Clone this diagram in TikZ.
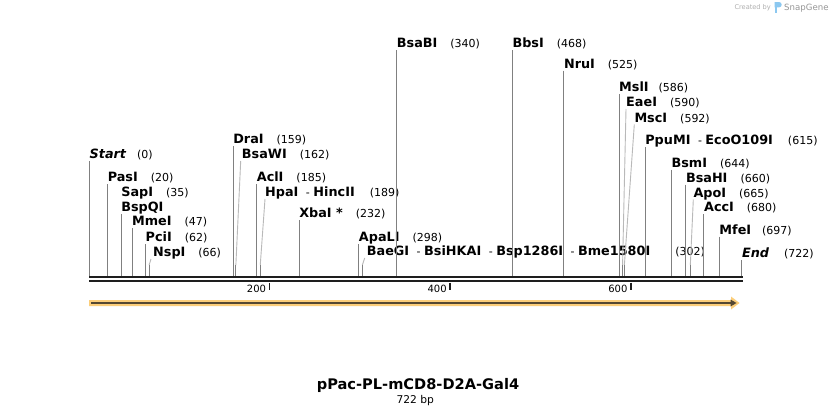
\documentclass[tikz,border=0pt]{standalone}
\usepackage{fontspec}
\setmainfont{DejaVu Sans}
\newcommand\namef{\fontsize{12.8}{15}\selectfont\bfseries}
\newcommand\numf{\fontsize{11}{13}\selectfont\mdseries\upshape}
\newcommand\enz[3][13pt]{{\namef #2}\hspace{#1}{\numf(#3)}}
\newcommand\sepr{{\numf\hspace{7.5pt}-\hspace{3.5pt}}}
\definecolor{leadgray}{RGB}{128,128,128}
\definecolor{slantgray}{RGB}{185,185,185}
\definecolor{bbcol}{RGB}{30,30,30}
\definecolor{featorange}{RGB}{252,206,122}
\definecolor{featdark}{RGB}{85,72,50}
\definecolor{wmgray}{RGB}{175,175,175}
\definecolor{wmdark}{RGB}{150,150,150}
\definecolor{wmblue}{RGB}{140,200,240}
\begin{document}
\begin{tikzpicture}[x=1pt,y=-1pt,
  lab/.style={inner sep=0pt, anchor=base west, text=black},
  lead/.style={draw=leadgray, line width=0.9pt},
  slant/.style={draw=slantgray, line width=0.9pt},
  bb/.style={draw=bbcol, line width=2.3pt},
  tick/.style={draw=bbcol, line width=1.6pt},
  ticklab/.style={inner sep=0pt, anchor=east, font=\fontsize{10}{12}\selectfont}]
\useasboundingbox[fill=white] (0,0) rectangle (832,415);
% site coordinates on the backbone
\foreach \p in {0,20,35,47,62,66,159,162,185,189,232,298,302,340,468,525,586,590,592,615,644,660,665,680,697,722}{
  \coordinate (s\p) at ({89.5+0.9035*\p},276);
  \coordinate (k\p) at ({89.5+0.9035*\p},265);
}
% labels
\node[lab] (start) at ({89.5+0.9035*0},158.5) {{\namef\itshape Start}\hspace{11pt}{\numf(0)}};
\node[lab] (pasi) at ({89.5+0.9035*20},181.5) {\enz{PasI}{20}};
\node[lab] (sapi) at ({89.5+0.9035*35},196.5) {\enz{SapI}{35}};
\node[lab] (bspqi) at ({89.5+0.9035*35},211.5) {{\namef BspQI}};
\node[lab] (mmei) at ({89.5+0.9035*47},225.5) {\enz{MmeI}{47}};
\node[lab] (pcii) at ({89.5+0.9035*62},241.5) {\enz{PciI}{62}};
\node[lab] (nspi) at (153,256.5) {\enz{NspI}{66}};
\node[lab] (drai) at ({89.5+0.9035*159},143.5) {\enz{DraI}{159}};
\node[lab] (bsawi) at (241.7,158.5) {\enz{BsaWI}{162}};
\node[lab] (acli) at ({89.5+0.9035*185},181.5) {\enz{AclI}{185}};
\node[lab] (hpai) at (265,196.5) {\enz[15pt]{HpaI\sepr HincII}{189}};
\node[lab] (xbai) at ({89.5+0.9035*232},217.5) {\enz{XbaI *}{232}};
\node[lab] (apali) at ({89.5+0.9035*298},241.5) {\enz{ApaLI}{298}};
\node[lab] (baegi) at (366.7,255.5) {\enz[25pt]{BaeGI\sepr BsiHKAI\sepr Bsp1286I\sepr Bme1580I}{302}};
\node[lab] (bsabi) at ({89.5+0.9035*340},47.5) {\enz{BsaBI}{340}};
\node[lab] (bbsi) at ({89.5+0.9035*468},47.5) {\enz{BbsI}{468}};
\node[lab] (nrui) at ({89.5+0.9035*525},68) {\enz{NruI}{525}};
\node[lab] (msli) at ({89.5+0.9035*586},91.5) {\enz[10pt]{MslI}{586}};
\node[lab] (eaei) at (626,106.5) {\enz{EaeI}{590}};
\node[lab] (msci) at (634.3,122) {\enz{MscI}{592}};
\node[lab] (ppumi) at ({89.5+0.9035*615},144.5) {\enz[15pt]{PpuMI\sepr EcoO109I}{615}};
\node[lab] (bsmi) at ({89.5+0.9035*644},167) {\enz{BsmI}{644}};
\node[lab] (bsahi) at ({89.5+0.9035*660},182) {\enz{BsaHI}{660}};
\node[lab] (apoi) at (693.3,197) {\enz{ApoI}{665}};
\node[lab] (acci) at ({89.5+0.9035*680},211.5) {\enz{AccI}{680}};
\node[lab] (mfei) at ({89.5+0.9035*697},234) {\enz[11pt]{MfeI}{697}};
\node[lab] (endl) at ({89.5+0.9035*722},257.5) {{\namef\itshape End}\hspace{15pt}{\numf(722)}};
% leader lines
\draw[lead] ([yshift=-2.5pt]start.base west) -- (s0);
\draw[lead] ([yshift=-2.5pt]pasi.base west) -- (s20);
\draw[lead] ([yshift=-2.5pt]bspqi.base west) -- (s35);
\draw[lead] ([yshift=-2.5pt]mmei.base west) -- (s47);
\draw[lead] ([yshift=-2.5pt]pcii.base west) -- (s62);
\draw[slant] ([yshift=-2.5pt,xshift=-2pt]nspi.base west) -- (k66);
\draw[lead] (k66) -- (s66);
\draw[lead] ([yshift=-2.5pt]drai.base west) -- (s159);
\draw[slant] ([yshift=-2.5pt,xshift=-1pt]bsawi.base west) -- (k162);
\draw[lead] (k162) -- (s162);
\draw[lead] ([yshift=-2.5pt]acli.base west) -- (s185);
\draw[slant] ([yshift=-2.5pt]hpai.base west) -- (k189);
\draw[lead] (k189) -- (s189);
\draw[lead] ([yshift=-2.5pt]xbai.base west) -- (s232);
\draw[lead] ([yshift=-2.5pt]apali.base west) -- (s298);
\draw[slant] ([yshift=-2.5pt,xshift=-2pt]baegi.base west) -- (k302);
\draw[lead] (k302) -- (s302);
\draw[lead] ([yshift=-2.5pt]bsabi.base west) -- (s340);
\draw[lead] ([yshift=-2.5pt]bbsi.base west) -- (s468);
\draw[lead] ([yshift=-2.5pt]nrui.base west) -- (s525);
\draw[lead] ([yshift=-2.5pt]msli.base west) -- (s586);
\draw[slant] ([yshift=-2.5pt]eaei.base west) -- (k590);
\draw[lead] (k590) -- (s590);
\draw[slant] ([yshift=-2.5pt]msci.base west) -- (k592);
\draw[lead] (k592) -- (s592);
\draw[lead] ([yshift=-2.5pt]ppumi.base west) -- (s615);
\draw[lead] ([yshift=-2.5pt]bsmi.base west) -- (s644);
\draw[lead] ([yshift=-2.5pt]bsahi.base west) -- (s660);
\draw[slant] ([yshift=-2.5pt]apoi.base west) -- (k665);
\draw[lead] (k665) -- (s665);
\draw[lead] ([yshift=-2.5pt]acci.base west) -- (s680);
\draw[lead] ([yshift=-2.5pt]mfei.base west) -- (s697);
\draw[lead] ([yshift=-2.5pt]endl.base west) -- (s722);
% backbone
\draw[bb] (89,277.2) -- (742.7,277.2);
\draw[bb] (89,281.2) -- (742.7,281.2);
% ticks
\foreach \t in {200,400,600}{
  \draw[tick] ({89.5+0.9035*\t-0.8},282.5) -- ({89.5+0.9035*\t-0.8},289.5);
  \node[ticklab] (t\t) at ({89.5+0.9035*\t-4},289) {\t};
}
% feature arrow
\fill[featorange] (89,300) -- (731,300) -- (731,296.5) -- (739.5,303) -- (731,309.5) -- (731,306) -- (89,306) -- cycle;
\draw[featdark, line width=2.3pt] (91,303) -- (732,303);
\fill[featdark] (730.5,299.5) -- (736.5,303) -- (730.5,306.5) -- cycle;
% title
\node[inner sep=0pt, anchor=base] (title) at (418,389) {\fontsize{14.6}{17}\selectfont\bfseries pPac-PL-mCD8-D2A-Gal4};
\node[inner sep=0pt, anchor=base] (len) at (415.3,403.8) {\fontsize{10.7}{13}\selectfont 722 bp};
% watermark
\node[inner sep=0pt, anchor=base west, text=wmgray] (wm1) at (734.3,9.8) {\fontsize{6.6}{8}\selectfont Created by};
\fill[wmblue] (774.5,2) rectangle (777,13);
\fill[wmblue] (774.5,2) -- (779,2) arc[start angle=90,end angle=-90,radius=2.7pt] -- (774.5,7.4) -- cycle;
\node[inner sep=0pt, anchor=base west, text=wmdark] (wm2) at (784,10.6) {\fontsize{8.6}{10}\selectfont SnapGene};
\end{tikzpicture}
\end{document}
